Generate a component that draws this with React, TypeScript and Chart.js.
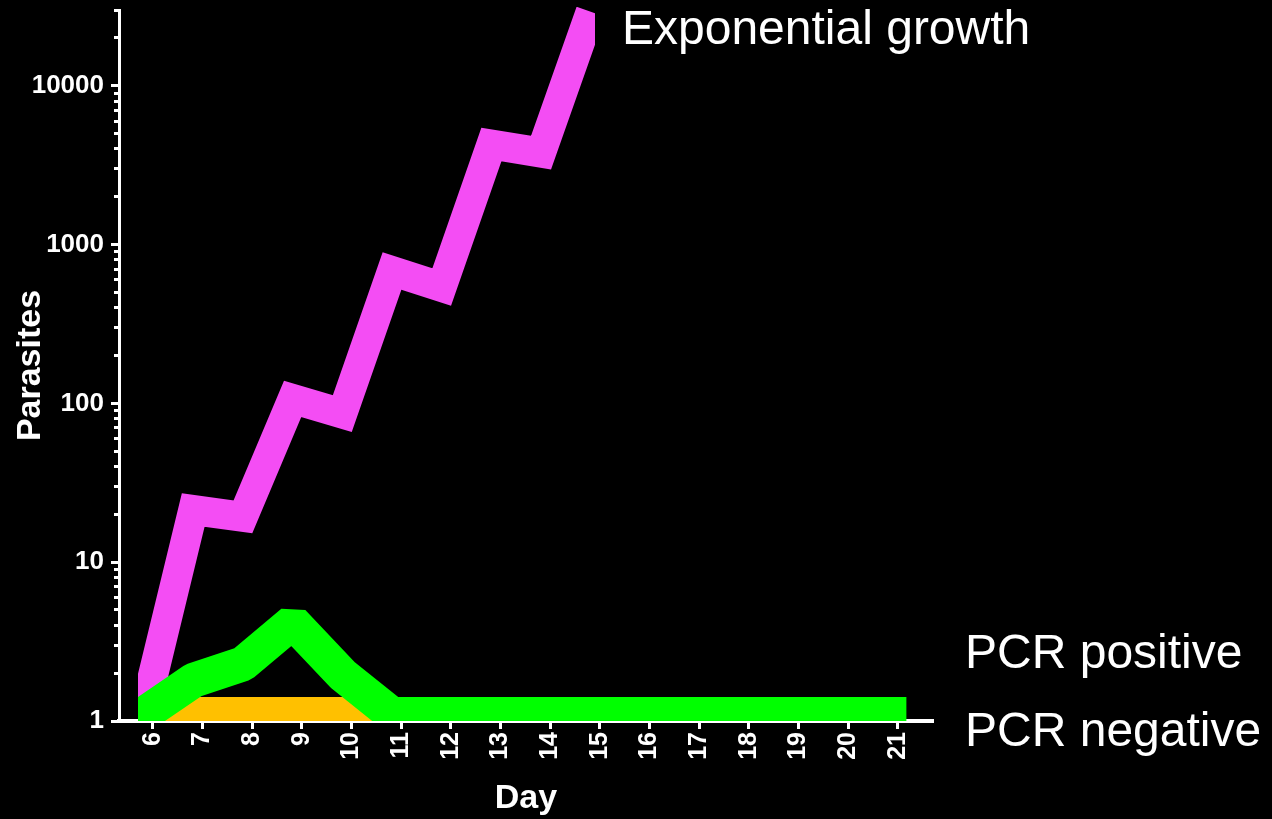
import React, { useEffect, useRef } from "react";
import { Chart, registerables } from "chart.js";

Chart.register(...registerables);

// ---- data ----
const dayTicks = [6, 7, 8, 9, 10, 11, 12, 13, 14, 15, 16, 17, 18, 19, 20, 21];

const exponentialDays = [6, 7, 8, 9, 10, 11, 12, 13, 14, 15];
const exponentialValues = [1.1, 21.3, 19.3, 106.7, 86.2, 681, 540, 4268, 3795, 29250];

const positiveDays = [6, 7, 8, 9, 10, 11, 12, 13, 14, 15, 16, 17, 18, 19, 20, 21];
const positiveValues = [1.1, 1.8, 2.29, 4.2, 1.96, 1.1, 1.1, 1.1, 1.1, 1.1, 1.1, 1.1, 1.1, 1.1, 1.1, 1.1];

const negativeDays = [6, 7, 8, 9, 10, 11, 12, 13, 14, 15, 16, 17, 18, 19, 20, 21];
const negativeValues = [1.1, 1.1, 1.1, 1.1, 1.1, 1.1, 1.1, 1.1, 1.1, 1.1, 1.1, 1.1, 1.1, 1.1, 1.1, 1.1];

const majorYTicks = [1, 10, 100, 1000, 10000];
const minorYTicks = [
  2, 3, 4, 5, 6, 7, 8, 9,
  20, 30, 40, 50, 60, 70, 80, 90,
  200, 300, 400, 500, 600, 700, 800, 900,
  2000, 3000, 4000, 5000, 6000, 7000, 8000, 9000,
  20000, 30000,
];

const yTitle = "Parasites";
const xTitle = "Day";
const annotationTexts = ["Exponential growth", "PCR positive", "PCR negative"];

// ---- layout constants ----
const X_MIN = 5.323;
const X_MAX = 21.705;
const LINE_SHIFT = 0.183; // the drawn lines sit slightly left of the day ticks
const Y_MIN = 1;
const Y_MAX = 30000;

const FONT = 'Arial, "Liberation Sans", Helvetica, sans-serif';

const toPoints = (xs: number[], ys: number[]) => xs.map((x, i) => ({ x, y: ys[i] }));

export default function App() {
  const canvasRef = useRef<HTMLCanvasElement | null>(null);

  useEffect(() => {
    document.body.style.margin = "0";
    document.body.style.background = "#000";
    document.documentElement.style.background = "#000";
    const canvas = canvasRef.current;
    if (!canvas) return;

    Chart.defaults.font.family = FONT;
    Chart.defaults.color = "#fff";

    const chart = new Chart(canvas, {
      type: "line",
      data: {
        datasets: [
          {
            label: annotationTexts[1],
            data: toPoints(positiveDays, positiveValues),
            xAxisID: "xd",
            yAxisID: "y",
            borderColor: "#00FF00",
            backgroundColor: "#00FF00",
            borderWidth: 35,
            borderCapStyle: "square",
            borderJoinStyle: "bevel",
            pointRadius: 0,
            pointHoverRadius: 0,
            tension: 0,
            fill: false,
            clip: { left: -19, top: 0, right: 0, bottom: 0 },
          } as any,
          {
            label: annotationTexts[0],
            data: toPoints(exponentialDays, exponentialValues),
            xAxisID: "xd",
            yAxisID: "y",
            borderColor: "#F44DF4",
            backgroundColor: "#F44DF4",
            borderWidth: 30,
            borderCapStyle: "butt",
            borderJoinStyle: "miter",
            pointRadius: 0,
            pointHoverRadius: 0,
            tension: 0,
            fill: false,
            clip: { left: -19, top: 3, right: -338, bottom: 0 },
          } as any,
          {
            label: annotationTexts[2],
            data: toPoints(negativeDays, negativeValues),
            xAxisID: "xd",
            yAxisID: "y",
            borderColor: "#FFC000",
            backgroundColor: "#FFC000",
            borderWidth: 35,
            borderCapStyle: "butt",
            borderJoinStyle: "miter",
            pointRadius: 0,
            pointHoverRadius: 0,
            tension: 0,
            fill: false,
            clip: { left: -19, top: 0, right: 0, bottom: 0 },
          } as any,
        ],
      },
      options: {
        responsive: false,
        animation: false,
        events: [],
        layout: { padding: { left: 0, top: 10, right: 339, bottom: 0 } },
        plugins: {
          legend: { display: false },
          tooltip: { enabled: false },
        },
        scales: {
          x: {
            type: "linear",
            position: "bottom",
            min: X_MIN,
            max: X_MAX,
            afterBuildTicks: (s: any) => {
              s.ticks = dayTicks.map((v) => ({ value: v }));
            },
            afterFit: (s: any) => {
              s.height = 98;
              s.paddingLeft = 0;
              s.paddingRight = 0;
            },
            ticks: {
              color: "#fff",
              font: { family: FONT, size: 25, weight: "bold" },
              minRotation: 90,
              maxRotation: 90,
              autoSkip: false,
              padding: 3,
              callback: (v: any) => String(v),
            },
            grid: {
              display: true,
              drawOnChartArea: false,
              drawTicks: true,
              tickLength: 8,
              tickWidth: 3,
              tickColor: "#fff",
            },
            border: { display: true, color: "#fff", width: 4 },
            title: {
              display: true,
              text: xTitle,
              color: "#fff",
              font: { family: FONT, size: 34, weight: "bold" },
              padding: { top: 0, bottom: 0 },
            },
          },
          xd: {
            type: "linear",
            display: false,
            min: X_MIN + LINE_SHIFT,
            max: X_MAX + LINE_SHIFT,
          },
          y: {
            type: "logarithmic",
            position: "left",
            weight: 10,
            min: Y_MIN,
            max: Y_MAX,
            afterBuildTicks: (s: any) => {
              s.ticks = majorYTicks.map((v) => ({ value: v }));
            },
            afterFit: (s: any) => {
              s.width = 119;
              s.paddingTop = 0;
              s.paddingBottom = 0;
            },
            ticks: {
              color: "#fff",
              font: { family: FONT, size: 26, weight: "bold" },
              padding: 7,
              autoSkip: false,
              callback: (v: any) => String(v),
            },
            grid: {
              display: true,
              drawOnChartArea: false,
              drawTicks: true,
              tickLength: 8,
              tickWidth: 3,
              tickColor: "#fff",
            },
            border: { display: true, color: "#fff", width: 3 },
            title: {
              display: true,
              text: yTitle,
              color: "#fff",
              font: { family: FONT, size: 34, weight: "bold" },
              padding: { top: 10, bottom: 0 },
            },
          },
          yMinor: {
            type: "logarithmic",
            position: "left",
            weight: 0,
            min: Y_MIN,
            max: Y_MAX,
            afterBuildTicks: (s: any) => {
              s.ticks = minorYTicks.map((v) => ({ value: v }));
            },
            afterFit: (s: any) => {
              s.width = 0;
              s.paddingTop = 0;
              s.paddingBottom = 0;
            },
            ticks: { display: false },
            grid: {
              display: true,
              drawOnChartArea: false,
              drawTicks: true,
              tickLength: 5,
              tickWidth: 3,
              tickColor: "#fff",
            },
            border: { display: false },
          },
        } as any,
      },
    });

    return () => {
      chart.destroy();
    };
  }, []);

  const labelStyle: React.CSSProperties = {
    position: "absolute",
    color: "#fff",
    fontFamily: FONT,
    fontSize: 48,
    lineHeight: "48px",
    whiteSpace: "nowrap",
    fontWeight: "normal",
  };

  return (
    <div
      style={{
        position: "absolute",
        left: 0,
        top: 0,
        width: 1272,
        height: 819,
        background: "#000",
        overflow: "hidden",
      }}
    >
      <canvas ref={canvasRef} width={1272} height={819} style={{ display: "block" }} />
      <div style={{ ...labelStyle, left: 622, top: 4 }}>{annotationTexts[0]}</div>
      <div style={{ ...labelStyle, left: 965, top: 628 }}>{annotationTexts[1]}</div>
      <div style={{ ...labelStyle, left: 965, top: 706 }}>{annotationTexts[2]}</div>
    </div>
  );
}
